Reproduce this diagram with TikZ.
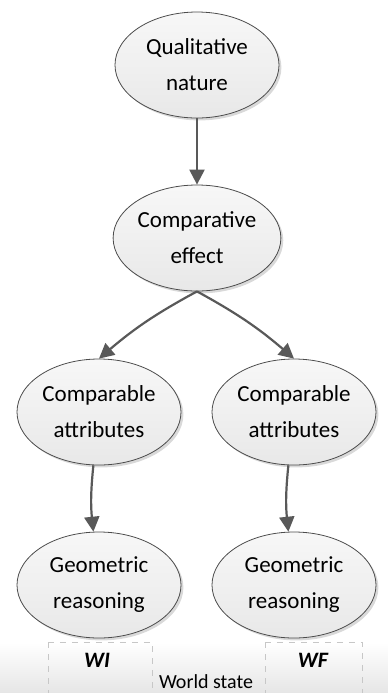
\documentclass[tikz,border=0pt]{standalone}
\usepackage{fontspec}
\setmainfont{Carlito}
\usetikzlibrary{arrows.meta,shadows,shapes.geometric}

\tikzset{
  stage/.style={ellipse,draw=black!70,line width=0.4pt,
    top color=black!3,bottom color=black!9,
    drop shadow={shadow xshift=1.2pt,shadow yshift=-1.2pt,fill=black!15,opacity=1},
    minimum width=82pt,minimum height=53pt,inner sep=0pt,
    align=center,font=\fontsize{11.5}{18}\selectfont},
  link/.style={draw=black!65,line width=1.1pt,-{Triangle[length=7.5pt,width=7.5pt]}},
  statebox/.style={draw=black!22,dashed,line width=0.4pt}
}

\begin{document}
\begin{tikzpicture}[x=0.5pt,y=-0.5pt]
\useasboundingbox (0,0) rectangle (388,693);
\shade[top color=white,bottom color=black!10] (0,643) rectangle (388,693);
\draw[statebox] (48,642) -- (48,693) (48,642) -- (152,642) -- (152,693);
\draw[statebox] (265,642) -- (265,693) (265,642) -- (362,642) -- (362,693);
\node[font=\fontsize{11}{12}\selectfont\bfseries\itshape] (wi) at (97,660) {WI};
\node[font=\fontsize{11}{12}\selectfont\bfseries\itshape] (wf) at (313,660) {WF};
\node[font=\fontsize{10}{12}\selectfont] (world) at (206,682) {World state};

\node[stage] (nature) at (197,65) {Qualitative\\nature};
\node[stage] (effect) at (197,238) {Comparative\\effect};
\node[stage] (attrl) at (99,412) {Comparable\\attributes};
\node[stage] (attrr) at (294,412) {Comparable\\attributes};
\node[stage] (geoml) at (99,585) {Geometric\\reasoning};
\node[stage] (geomr) at (294,585) {Geometric\\reasoning};

\draw[link] (nature) -- (effect);
\draw[link] (effect.south) to[bend right=6] (attrl.north);
\draw[link] (effect.south) to[bend left=6] (attrr.north);
\draw[link] (attrl) to[bend right=6] (geoml);
\draw[link] (attrr) to[bend right=6] (geomr);
\end{tikzpicture}
\end{document}
